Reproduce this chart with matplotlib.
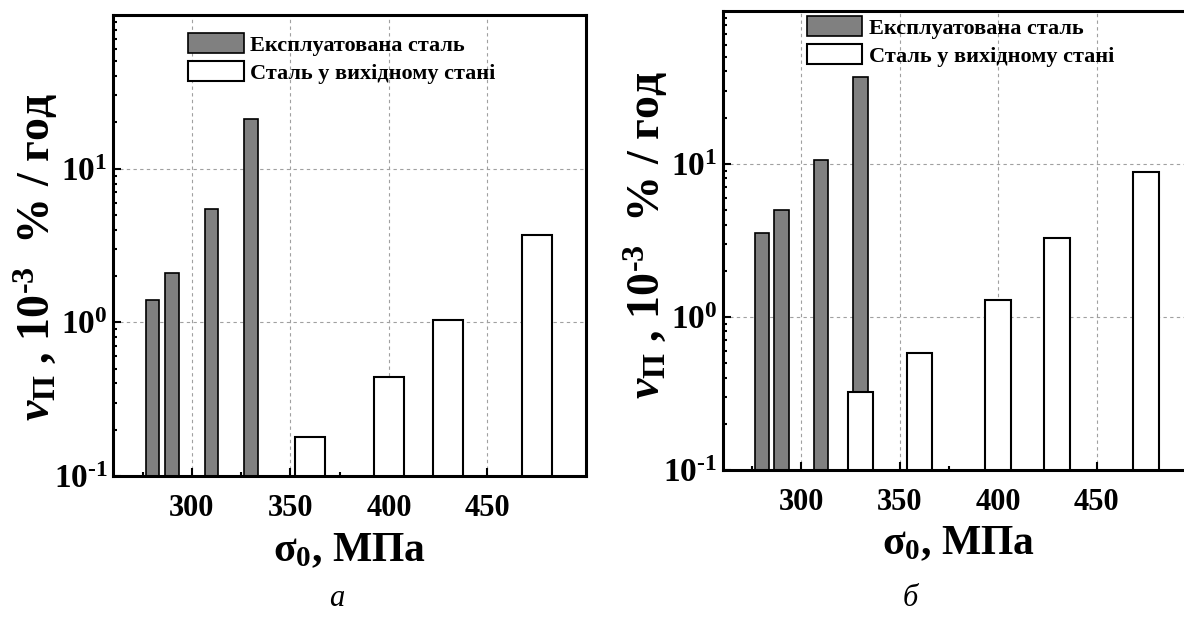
import matplotlib
matplotlib.use("Agg")
import matplotlib.pyplot as plt
from matplotlib.ticker import FixedLocator, FixedFormatter, LogLocator, MultipleLocator, NullFormatter

# panel (а)
stress_used_a = [280, 290, 310, 330]
rate_used_a = [1.4, 2.1, 5.5, 21.0]
stress_init_a = [360, 400, 430, 475]
rate_init_a = [0.18, 0.44, 1.03, 3.7]

# panel (б)
stress_used_b = [280, 290, 310, 330]
rate_used_b = [3.5, 5.0, 10.5, 37.0]
stress_init_b = [330, 360, 400, 430, 475]
rate_init_b = [0.32, 0.58, 1.28, 3.25, 8.8]

legend_labels = ["Експлуатована сталь", "Сталь у вихідному стані"]
ytick_values = [0.1, 1, 10]
ytick_labels = [r"10$^{\text{-1}}$", r"10$^{\text{0}}$", r"10$^{\text{1}}$"]
xtick_values = [300, 350, 400, 450]

plt.rcParams["font.family"] = ["Liberation Serif", "DejaVu Serif"]
plt.rcParams["font.weight"] = "bold"
plt.rcParams["axes.labelweight"] = "bold"
plt.rcParams["mathtext.fontset"] = "custom"
plt.rcParams["mathtext.rm"] = "Liberation Serif:bold"
plt.rcParams["mathtext.bf"] = "Liberation Serif:bold"
plt.rcParams["mathtext.it"] = "Liberation Serif:bold:italic"
plt.rcParams["mathtext.sf"] = "Liberation Serif"

W, H = 1184, 617
fig = plt.figure(figsize=(W / 100, H / 100), dpi=100)


def px_axes(x0, y0, x1, y1):
    return fig.add_axes([x0 / W, 1 - y1 / H, (x1 - x0) / W, (y1 - y0) / H])


def draw_panel(ax, xu, yu, xi, yi, w_used, w_init, leg_anchor, ylab_y):
    ax.set_yscale("log")
    b1 = ax.bar(xu, yu, width=w_used, color="#808080", edgecolor="black", linewidth=1.2, zorder=3)
    b2 = ax.bar(xi, yi, width=w_init, color="white", edgecolor="black", linewidth=1.5, zorder=4)
    ax.set_xlim(260, 500)
    ax.set_ylim(0.1, 100)

    ax.xaxis.set_major_locator(FixedLocator(xtick_values))
    ax.xaxis.set_minor_locator(MultipleLocator(50, offset=25))
    ax.yaxis.set_major_locator(FixedLocator(ytick_values))
    ax.yaxis.set_major_formatter(FixedFormatter(ytick_labels))
    ax.yaxis.set_minor_locator(LogLocator(base=10, subs=range(2, 10)))
    ax.yaxis.set_minor_formatter(NullFormatter())

    ax.tick_params(which="both", direction="in", top=False, right=False, width=1.5)
    ax.tick_params(which="major", length=6)
    ax.tick_params(which="minor", length=3.2)
    ax.tick_params(axis="x", labelsize=22, pad=13)
    ax.tick_params(axis="y", labelsize=24, pad=4)

    ax.grid(True, which="major", color="#a0a0a0", linestyle=(0, (3, 3)), linewidth=0.8, zorder=0)
    for s in ax.spines.values():
        s.set_linewidth(2.2)
        s.set_zorder(5)

    ax.legend([b1, b2], legend_labels, loc="upper left", bbox_to_anchor=leg_anchor,
              frameon=False, fontsize=16, handlelength=2.5, handleheight=1.0,
              handletextpad=0.3, labelspacing=0.25, borderpad=0, borderaxespad=0)

    ax.set_xlabel(r"$\mathsf{σ}_{0}$, МПа", fontsize=30, labelpad=6)
    ax.set_ylabel(r"$\mathit{v}_{\mathrm{П}}$ , 10$^{\text{-3}}$  % / год", fontsize=33)
    ax.yaxis.set_label_coords(-0.112, ylab_y)


ax_a = px_axes(113, 15, 586, 476)
draw_panel(ax_a, stress_used_a, rate_used_a, stress_init_a, rate_init_a, 7, 15,
           ((188 - 113) / 473, (476 - 33) / 461), 0.475)

ax_b = px_axes(722.6, 10.6, 1195, 469.7)
draw_panel(ax_b, stress_used_b, rate_used_b, stress_init_b, rate_init_b, 7.5, 13,
           ((806.7 - 722.6) / 472.4, (469.7 - 16) / 459.1), 0.51)

fig.text(337 / W, 1 - 598 / H, "а", fontsize=22, style="italic", weight="normal",
         ha="center", va="center")
fig.text(910 / W, 1 - 598 / H, "б", fontsize=22, style="italic", weight="normal",
         ha="center", va="center")

fig.savefig("out.png", dpi=100)
